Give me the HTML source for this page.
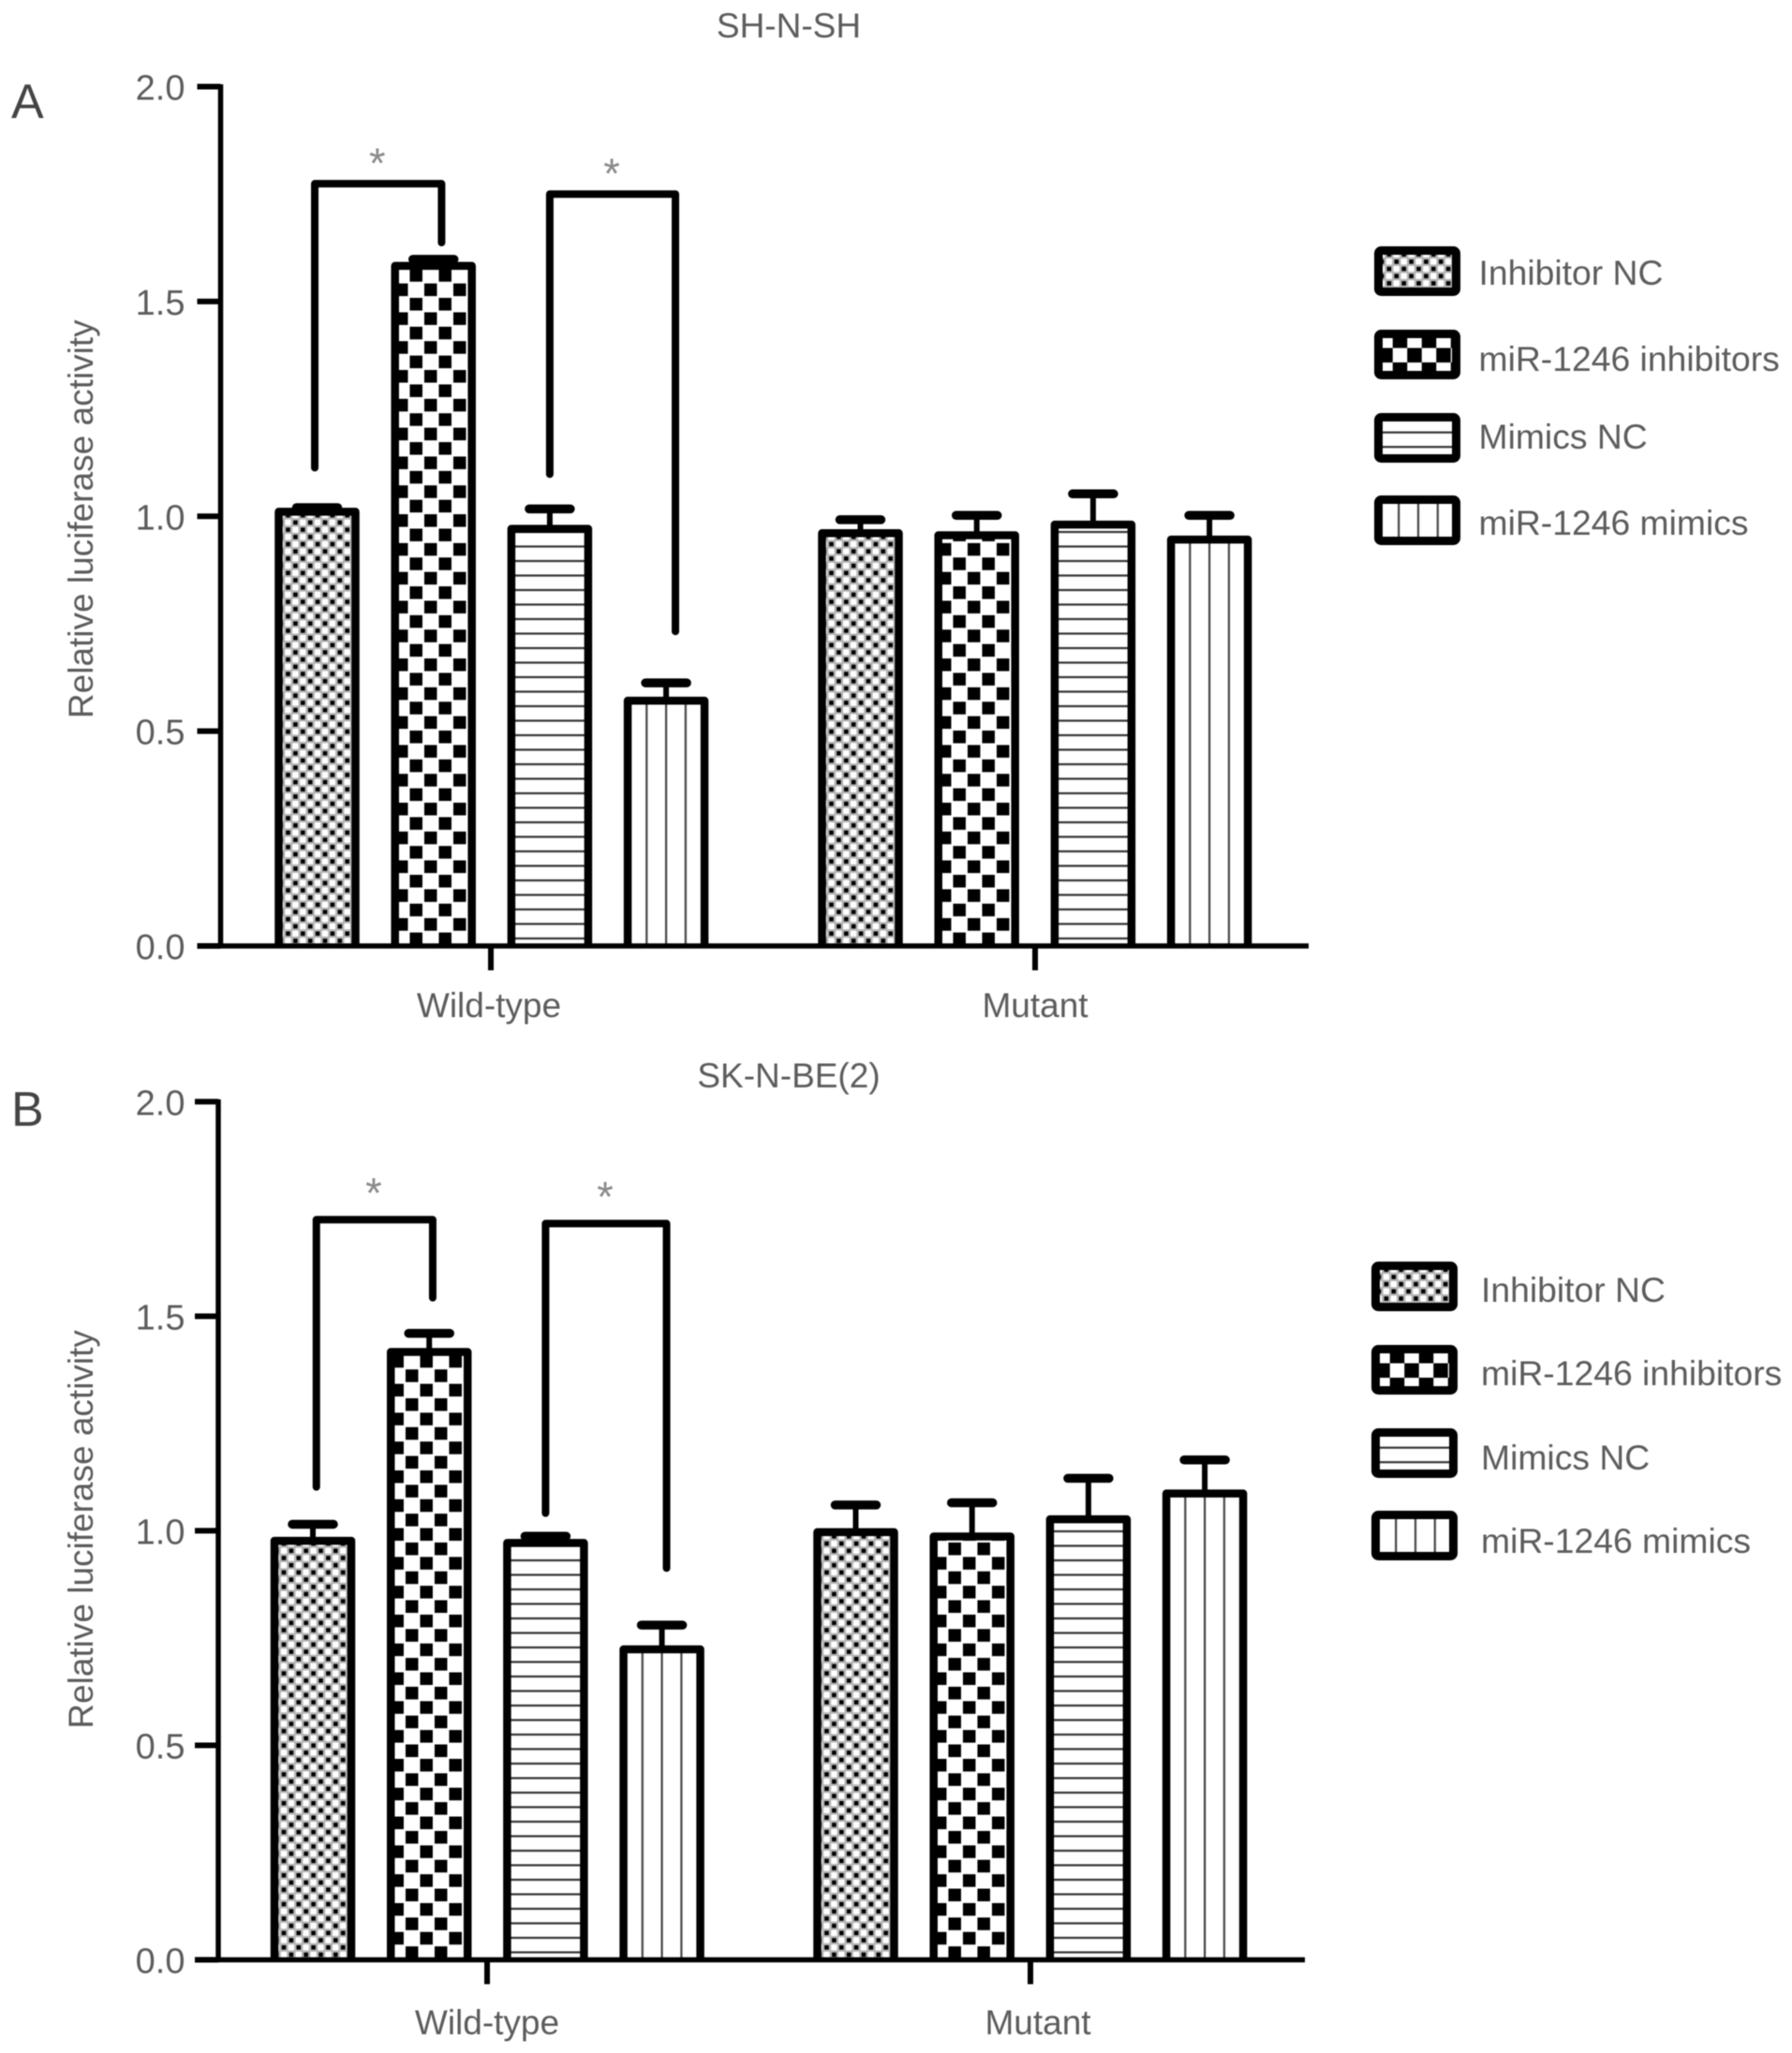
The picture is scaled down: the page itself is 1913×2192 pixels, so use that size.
<!DOCTYPE html>
<html lang="en">
<head>
<meta charset="utf-8">
<title>Relative luciferase activity</title>
<style>
html,body{margin:0;padding:0;background:#fff;}
svg{display:block;filter:blur(0.5px);}
text{font-family:"Liberation Sans",sans-serif;fill:#5c5c5c;}
</style>
</head>
<body>
<svg id="chart" xmlns="http://www.w3.org/2000/svg" width="1913" height="2192" viewBox="0 0 1913 2192"><defs id="defs"></defs></svg>
<script>
const seriesNames = ['Inhibitor NC', 'miR-1246 inhibitors', 'Mimics NC', 'miR-1246 mimics'];
const groupNames = ['Wild-type', 'Mutant'];
const yTicks = [0, 0.5, 1, 1.5, 2];
const yTickLabels = ['0.0', '0.5', '1.0', '1.5', '2.0'];

// Panel A: SH-N-SH. Rows are groups, columns are series.
const panelAMeans = [[1.02, 1.592, 0.98, 0.58], [0.97, 0.965, 0.99, 0.955]];
const panelAUpper = [[1.03, 1.608, 1.027, 0.622], [1.002, 1.012, 1.062, 1.012]];
// Brackets: [left bar position, right bar position, left end, top, right end]
const panelABrackets = [[-0.02, 1.07, 1.113, 1.774, 1.637], [2.0, 3.08, 1.098, 1.75, 0.732]];

// Panel B: SK-N-BE(2).
const panelBMeans = [[0.986, 1.426, 0.981, 0.733], [1.006, 0.996, 1.036, 1.096]];
const panelBUpper = [[1.025, 1.47, 0.997, 0.79], [1.07, 1.075, 1.132, 1.175]];
const panelBBrackets = [[0.03, 1.03, 1.102, 1.725, 1.543], [2.0, 3.04, 1.041, 1.716, 0.913]];

const NS = 'http://www.w3.org/2000/svg';
const svg = document.getElementById('chart');
const defs = document.getElementById('defs');
let patternCount = 0;

function make(tag, attrs, parent, text) {
  const el = document.createElementNS(NS, tag);
  for (const k in attrs) el.setAttribute(k, attrs[k]);
  if (text !== undefined) el.textContent = text;
  parent.appendChild(el);
  return el;
}

// Creates a fill pattern for a series; (ax, ay) is the centre of a reference dot, square or line.
function makePattern(kind, ax, ay, checkerSize) {
  const id = 'pat' + (patternCount++);
  const side = checkerSize || 13.5;
  let w, h, ox, oy;
  if (kind === 0) { w = 15.8; h = 15.4; ox = 3.7; oy = 3.7; }
  else if (kind === 1) { w = 31; h = 30.8; ox = side / 2; oy = side / 2; }
  else if (kind === 2) { w = 40; h = 15.5; ox = 0; oy = 1.1; }
  else { w = 20.8; h = 40; ox = 1.1; oy = 0; }
  const p = make('pattern', {id: id, patternUnits: 'userSpaceOnUse', width: w, height: h,
    patternTransform: 'translate(' + (ax - ox) + ',' + (ay - oy) + ')'}, defs);
  if (kind === 0) {
    make('rect', {x: 0, y: 0, width: w, height: h, fill: '#b4b4b4'}, p);
    [[7.9, 0], [0, 7.7]].forEach(function (c) {
      make('rect', {x: c[0] + 0.6, y: c[1] + 0.6, width: 6.3, height: 6.3, fill: '#fff'}, p);
    });
    [[0, 0], [7.9, 7.7]].forEach(function (c) {
      make('rect', {x: c[0] + 1.5, y: c[1] + 1.5, width: 4.6, height: 4.6, fill: '#000'}, p);
    });
  } else if (kind === 1) {
    make('rect', {x: 0, y: 0, width: w, height: h, fill: '#fff'}, p);
    make('rect', {x: 0, y: 0, width: side, height: side, fill: '#000'}, p);
    make('rect', {x: 15.5, y: 15.4, width: side, height: side, fill: '#000'}, p);
  } else if (kind === 2) {
    make('rect', {x: 0, y: 0, width: w, height: h, fill: '#fff'}, p);
    make('rect', {x: 0, y: 0, width: w, height: 2.2, fill: '#333'}, p);
  } else {
    make('rect', {x: 0, y: 0, width: w, height: h, fill: '#fff'}, p);
    make('rect', {x: 0, y: 0, width: 2.2, height: h, fill: '#444'}, p);
  }
  return 'url(#' + id + ')';
}

// Pattern anchors inside a bar, relative to bar centre and axis baseline.
function barPatternAnchor(kind, cx, y0) {
  if (kind === 0) return [cx + 0.5, y0 - 13.3];
  if (kind === 1) return [cx - 3, y0 - 23];
  if (kind === 2) return [cx, y0 - 8];
  return [cx, y0];
}

// Pattern anchors inside a legend swatch, relative to swatch corner.
function legendPatternAnchor(kind, lx, ly) {
  if (kind === 0) return [lx + 23.7, ly + 16.3];
  if (kind === 1) return [lx + 43, ly + 27.3];
  if (kind === 2) return [lx + 46, ly + 20.7];
  return [lx + 47, ly];
}

function drawPanel(cfg) {
  const g = make('g', {}, svg);
  
  

  const yScale = function (v) { return cfg.y0 - v * (cfg.y0 - cfg.y2) / 2; };
  const barX = function (groupIndex, seriesIndex) {
    return cfg.groupStart[groupIndex] + seriesIndex * cfg.pitch;
  };

  const letter = make('text', {x: 12, y: cfg.letterY, 'font-size': 52, style: 'fill:#444'}, g, cfg.letter);
  
  

  const title = make('text', {x: 842, y: cfg.titleY, 'font-size': 37, 'text-anchor': 'middle'}, g, cfg.title);
  
  

  const yTitle = make('text', {x: 0, y: 0, 'font-size': 37, 'text-anchor': 'middle',
    transform: 'translate(99,' + ((cfg.y0 + cfg.y2) / 2 + cfg.yTitleShift) + ') rotate(-90)'}, g, 'Relative luciferase activity');
  
  

  // Bars
  [0, 1].forEach(function (gi) {
    seriesNames.forEach(function (name, si) {
      const cx = barX(gi, si);
      const mean = cfg.means[gi][si];
      const upper = cfg.upper[gi][si];
      const top = yScale(mean);
      const stem = make('line', {x1: cx, x2: cx, y1: top + 2, y2: yScale(upper) + 4,
        stroke: '#000', 'stroke-width': 6}, g);
      
      
      const cap = make('line', {x1: cx - 22, x2: cx + 22, y1: yScale(upper) + 4.5, y2: yScale(upper) + 4.5,
        stroke: '#000', 'stroke-width': 9.5, 'stroke-linecap': 'round'}, g);
      
      
      const anchor = barPatternAnchor(si, cx, cfg.y0);
      const fill = makePattern(si, anchor[0], anchor[1]);
      const bar = make('rect', {x: cx - 41, y: top + 4, width: 82, height: cfg.y0 - top - 4, fill: fill}, g);
      
      
      const outline = make('path', {d: 'M' + (cx - 41) + ' ' + cfg.y0 + ' V' + (top + 4.25) + ' H' + (cx + 41) + ' V' + cfg.y0,
        fill: 'none', stroke: '#000', 'stroke-width': 8.5, 'stroke-linejoin': 'round'}, g);
      
      
    });
  });

  // Significance brackets
  cfg.brackets.forEach(function (b) {
    const bx = function (pos) { return cfg.groupStart[0] + pos * cfg.pitch; };
    const d = 'M' + bx(b[0]) + ' ' + yScale(b[2]) + ' L' + bx(b[0]) + ' ' + yScale(b[3]) +
      ' L' + bx(b[1]) + ' ' + yScale(b[3]) + ' L' + bx(b[1]) + ' ' + yScale(b[4]);
    const path = make('path', {d: d, fill: 'none', stroke: '#000', 'stroke-width': 8,
      'stroke-linecap': 'round', 'stroke-linejoin': 'round'}, g);
    
    
    const star = make('text', {x: (bx(b[0]) + bx(b[1])) / 2 - 1, y: yScale(b[3]) - cfg.starOffset + 26,
      'font-size': 45, 'text-anchor': 'middle', style: 'fill:#8a8a8a'}, g, '*');
    
    
  });

  // Axes
  const yAxis = make('line', {x1: cfg.axisX, x2: cfg.axisX, y1: cfg.y2 - 2.5, y2: cfg.y0 + 2.5,
    stroke: '#000', 'stroke-width': 5.5}, g);
  
  
  const xAxis = make('line', {x1: cfg.axisX, x2: cfg.axisEnd, y1: cfg.y0, y2: cfg.y0,
    stroke: '#000', 'stroke-width': 5.5}, g);
  
  

  yTicks.forEach(function (t, i) {
    const tick = make('line', {x1: cfg.axisX - 25, x2: cfg.axisX, y1: yScale(t), y2: yScale(t),
      stroke: '#000', 'stroke-width': 6}, g);
    
    
    const label = make('text', {x: cfg.tickLabelX, y: yScale(t) + 14, 'font-size': 38, 'text-anchor': 'end'}, g, yTickLabels[i]);
    
    
  });

  groupNames.forEach(function (name, gi) {
    const tx = cfg.groupTick[gi];
    const tick = make('line', {x1: tx, x2: tx, y1: cfg.y0, y2: cfg.y0 + 26, stroke: '#000', 'stroke-width': 6}, g);
    
    
    const label = make('text', {x: cfg.groupLabelX[gi], y: cfg.xLabelY, 'font-size': 37, 'text-anchor': 'middle'}, g, name);
    
    
  });

  // Legend
  seriesNames.forEach(function (name, si) {
    const lg = make('g', {}, g);
    
    
    const ly = cfg.legendY[si];
    const anchor = legendPatternAnchor(si, cfg.legendX, ly);
    const swatch = make('rect', {x: cfg.legendX + 4.5, y: ly + 4.5, width: 83, height: 44, rx: 3,
      fill: makePattern(si, anchor[0], anchor[1], 15.5), stroke: '#000', 'stroke-width': 9, 'stroke-linejoin': 'round'}, lg);
    
    
    const label = make('text', {x: cfg.legendTextX, y: cfg.legendTextY[si], 'font-size': 37.3}, lg, name);
    
    
  });
}

drawPanel({
  name: 'panel-a', letter: 'A', letterY: 126, title: 'SH-N-SH', titleY: 40,
  y0: 1010, y2: 92.5, axisX: 235.5, axisEnd: 1397, tickLabelX: 197.5, yTitleShift: 3,
  groupStart: [338.5, 918.5], pitch: 124.2, groupTick: [524, 1105], groupLabelX: [522, 1105], xLabelY: 1086,
  means: panelAMeans, upper: panelAUpper, brackets: panelABrackets, starOffset: 32,
  legendX: 1467, legendY: [263, 352, 441, 529], legendTextX: 1578.5, legendTextY: [304, 396, 479, 571]
});
drawPanel({
  name: 'panel-b', letter: 'B', letterY: 1202, title: 'SK-N-BE(2)', titleY: 1161,
  y0: 2092.5, y2: 1176.3, axisX: 233, axisEnd: 1393, tickLabelX: 197.5, yTitleShift: -1.5,
  groupStart: [334, 913.5], pitch: 124.2, groupTick: [520, 1100], groupLabelX: [520, 1108], xLabelY: 2172,
  means: panelBMeans, upper: panelBUpper, brackets: panelBBrackets, starOffset: 39,
  legendX: 1464, legendY: [1347, 1436, 1525, 1613], legendTextX: 1581, legendTextY: [1390, 1479, 1569, 1658]
});
</script>
</body>
</html>
